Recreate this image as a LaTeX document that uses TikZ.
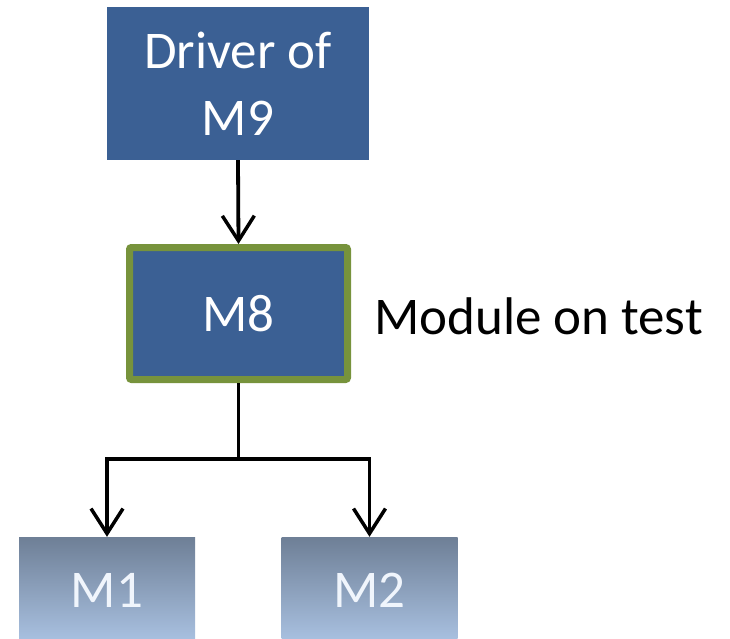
\documentclass[tikz,border=0pt]{standalone}
\usepackage{fontspec}
\setmainfont{Carlito}
\usetikzlibrary{arrows.meta}
\definecolor{boxblue}{RGB}{59,96,148}
\definecolor{testgreen}{RGB}{119,147,60}
\definecolor{leaftop}{RGB}{110,127,150}
\definecolor{leafbottom}{RGB}{170,194,226}
\definecolor{leaftext}{RGB}{240,245,252}
\tikzset{
  modfont/.style={font=\fontsize{53}{67}\selectfont},
  mainbox/.style={modfont, draw=none, fill=boxblue, text=white, align=center,
    inner sep=0pt},
  testbox/.style={mainbox, draw=testgreen, line width=7pt, rounded corners=2pt},
  leafbox/.style={modfont, top color=leaftop, bottom color=leafbottom,
    text=leaftext, inner sep=0pt, minimum width=176pt, minimum height=106pt},
  link/.style={line width=3.8pt, draw=black},
  arrowlink/.style={link, -{Straight Barb[length=25pt,width=32pt,line width=3.5pt]}},
}
\begin{document}
\begin{tikzpicture}[x=1pt,y=-1pt]
  \useasboundingbox (0,0) rectangle (730,639);
  % driver on top
  \node[mainbox, minimum width=262pt, minimum height=153pt] (drv) at (238,83.5)
    {Driver of\\M9};
  % module under test
  \node[testbox, minimum width=218pt, minimum height=132pt] (m8) at (238.5,313.5) {M8};
  \node[modfont, anchor=west, inner sep=0pt] (lbl) at (374,316) {Module on test};
  % stubs below
  \node[leafbox] (m1) at (107,590) {M1};
  \node[leafbox] (m2) at (369.5,590) {M2};
  % connectors
  \coordinate (split) at (238.5,459);
  \draw[arrowlink] (drv.south) -- (m8.north);
  \draw[link] (m8.south) -- (split);
  \draw[arrowlink] (split) -| (m1.north);
  \draw[arrowlink] (split) -| (m2.north);
\end{tikzpicture}
\end{document}
